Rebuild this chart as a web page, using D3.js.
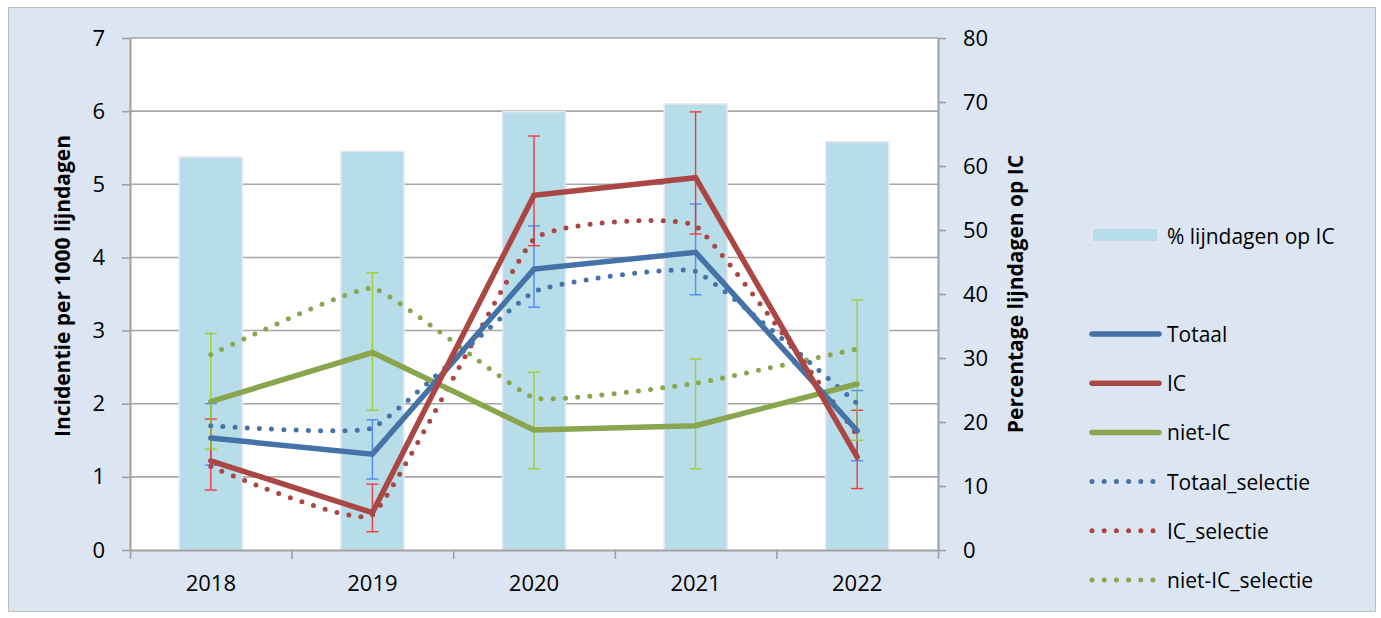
<!DOCTYPE html>
<html>
<head>
<meta charset="utf-8">
<script src="https://cdn.jsdelivr.net/npm/d3@7"></script>
<style>
  html, body { margin: 0; padding: 0; background: #ffffff; }
  svg { display: block; }
  text { font-family: "Open Sans", "Noto Sans", sans-serif; fill: #000; }
</style>
</head>
<body>
<svg id="chart" width="1381" height="618"></svg>
<script>
// Categories (years)
const years = ["2018", "2019", "2020", "2021", "2022"];

// Percentage of line days on IC (right axis, bars)
const pctIC = [61.4, 62.3, 68.5, 69.7, 63.8];

// Incidence per 1000 line days (left axis)
const totaal = [1.53, 1.31, 3.84, 4.07, 1.63];
const ic = [1.22, 0.51, 4.85, 5.09, 1.27];
const nietIC = [2.03, 2.70, 1.64, 1.70, 2.27];

// Confidence intervals for the solid series
const totaalLo = [1.16, 0.97, 3.32, 3.49, 1.22];
const totaalHi = [2.00, 1.78, 4.43, 4.73, 2.18];
const icLo = [0.82, 0.25, 4.16, 4.32, 0.84];
const icHi = [1.79, 0.90, 5.66, 5.99, 1.91];
const nietICLo = [1.38, 1.91, 1.11, 1.11, 1.50];
const nietICHi = [2.96, 3.79, 2.43, 2.61, 3.42];

// Selection series (dotted, smoothed)
const totaalSel = [1.70, 1.67, 3.53, 3.81, 2.00];
const icSel = [1.14, 0.48, 4.25, 4.43, 1.57];
const nietICSel = [2.67, 3.58, 2.08, 2.28, 2.75];

// Axis ticks
const leftTicks = [0, 1, 2, 3, 4, 5, 6, 7];
const rightTicks = [0, 10, 20, 30, 40, 50, 60, 70, 80];

const svg = d3.select("#chart");

// Chart area
svg.append("rect")
  .attr("x", 8.5).attr("y", 7.5)
  .attr("width", 1367).attr("height", 604)
  .attr("fill", "#dce6f2")
  .attr("stroke", "#bfbfbf").attr("stroke-width", 1);

const plot = { left: 130, right: 938, top: 38, bottom: 550 };

const x = d3.scaleBand().domain(years).range([plot.left, plot.right]).paddingInner(0).paddingOuter(0);
const xEdge = d3.scaleLinear().domain([0, years.length]).range([plot.left, plot.right]);
const yL = d3.scaleLinear().domain([0, 7]).range([plot.bottom, plot.top]);
const yR = d3.scaleLinear().domain([0, 80]).range([plot.bottom, plot.top]);
const cx = d => x(d) + x.bandwidth() / 2;

// Plot area
svg.append("rect")
  .attr("x", plot.left).attr("y", plot.top)
  .attr("width", plot.right - plot.left).attr("height", plot.bottom - plot.top)
  .attr("fill", "#ffffff");

// Horizontal gridlines
svg.append("g")
  .selectAll("line")
  .data(leftTicks.filter(t => t > 0))
  .join("line")
  .attr("x1", plot.left).attr("x2", plot.right)
  .attr("y1", d => yL(d)).attr("y2", d => yL(d))
  .attr("stroke", "#a6a6a6").attr("stroke-width", 1.6);

// Bars: % line days on IC
const barW = 63;
svg.append("g")
  .selectAll("rect")
  .data(years)
  .join("rect")
  .attr("x", d => cx(d) - barW / 2)
  .attr("y", (d, i) => yR(pctIC[i]))
  .attr("width", barW)
  .attr("height", (d, i) => yR(0) - yR(pctIC[i]))
  .attr("fill", "#b7dde8")
  .attr("stroke", "#ece4f4").attr("stroke-width", 1.5);

// Axes
const axisColor = "#a0a0a0";
function styleAxis(g) {
  g.select(".domain").attr("stroke", axisColor).attr("stroke-width", 2);
  g.selectAll(".tick line").attr("stroke", axisColor).attr("stroke-width", 1.6);
  g.selectAll("text").attr("font-size", 22).attr("fill", "#000");
}

svg.append("g")
  .attr("transform", `translate(${plot.left},0)`)
  .call(d3.axisLeft(yL).tickValues(leftTicks).tickFormat(d3.format("d")).tickSize(8).tickPadding(17).tickSizeOuter(0))
  .call(styleAxis);

svg.append("g")
  .attr("transform", `translate(${plot.right},0)`)
  .call(d3.axisRight(yR).tickValues(rightTicks).tickFormat(d3.format("d")).tickSize(8).tickPadding(17).tickSizeOuter(0))
  .call(styleAxis);

// Bottom axis: boundary ticks plus centred year labels
svg.append("g")
  .attr("transform", `translate(0,${plot.bottom})`)
  .call(d3.axisBottom(xEdge).tickValues(d3.range(years.length + 1)).tickFormat("").tickSize(9).tickSizeOuter(0))
  .call(styleAxis);

svg.append("g")
  .attr("transform", `translate(0,${plot.bottom})`)
  .call(d3.axisBottom(x).tickSize(0).tickPadding(25))
  .call(g => g.select(".domain").remove())
  .call(styleAxis);

// Error bars
const errSeries = [
  { lo: totaalLo, hi: totaalHi, color: "#3f7cf5" },
  { lo: icLo, hi: icHi, color: "#ff1f1f" },
  { lo: nietICLo, hi: nietICHi, color: "#9dcc14" }
];
const cap = 6;
errSeries.forEach(s => {
  const g = svg.append("g").attr("stroke", s.color).attr("stroke-width", 1.4).attr("opacity", 0.85);
  years.forEach((yr, i) => {
    const px = cx(yr);
    g.append("line").attr("x1", px).attr("x2", px).attr("y1", yL(s.lo[i])).attr("y2", yL(s.hi[i]));
    g.append("line").attr("x1", px - cap).attr("x2", px + cap).attr("y1", yL(s.lo[i])).attr("y2", yL(s.lo[i]));
    g.append("line").attr("x1", px - cap).attr("x2", px + cap).attr("y1", yL(s.hi[i])).attr("y2", yL(s.hi[i]));
  });
});

// Line series
const colBlue = "#4572a7", colRed = "#aa4643", colGreen = "#89a54e";
const series = [
  { name: "Totaal", values: totaal, color: colBlue, dotted: false },
  { name: "IC", values: ic, color: colRed, dotted: false },
  { name: "niet-IC", values: nietIC, color: colGreen, dotted: false },
  { name: "Totaal_selectie", values: totaalSel, color: colBlue, dotted: true },
  { name: "IC_selectie", values: icSel, color: colRed, dotted: true },
  { name: "niet-IC_selectie", values: nietICSel, color: colGreen, dotted: true }
];

const straight = d3.line().x((d, i) => cx(years[i])).y(d => yL(d));
const smooth = d3.line().x((d, i) => cx(years[i])).y(d => yL(d)).curve(d3.curveCardinal.tension(0.65));

// Dotted series first, solid lines on top
const drawOrder = [5, 4, 3, 2, 0, 1];
drawOrder.forEach(k => {
  const s = series[k];
  svg.append("path")
    .attr("d", (s.dotted ? smooth : straight)(s.values))
    .attr("fill", "none")
    .attr("stroke", s.color)
    .attr("stroke-width", s.dotted ? 5 : 5.5)
    .attr("stroke-linecap", "round")
    .attr("stroke-linejoin", "miter")
    .attr("stroke-dasharray", s.dotted ? "0 12.2" : null);
});

// Axis titles
svg.append("text")
  .attr("transform", "translate(62,286) rotate(-90)")
  .attr("text-anchor", "middle").attr("dominant-baseline", "central")
  .attr("font-size", 21).attr("font-weight", "bold")
  .text("Incidentie per 1000 lijndagen");

svg.append("text")
  .attr("transform", "translate(1015,294) rotate(-90)")
  .attr("text-anchor", "middle").attr("dominant-baseline", "central")
  .attr("font-size", 21).attr("font-weight", "bold")
  .text("Percentage lijndagen op IC");

// Legend
const legend = svg.append("g");
legend.append("rect")
  .attr("x", 1092).attr("y", 228).attr("width", 66).attr("height", 14)
  .attr("fill", "#b7dde8").attr("stroke", "#ece4f4").attr("stroke-width", 1.5);
legend.append("text")
  .attr("x", 1167).attr("y", 236).attr("dominant-baseline", "central")
  .attr("font-size", 21).text("% lijndagen op IC");

const legY = d3.scalePoint().domain(series.map(s => s.name)).range([334, 580]);
series.forEach(s => {
  const yy = legY(s.name);
  if (s.dotted) {
    legend.append("line")
      .attr("x1", 1092).attr("x2", 1154).attr("y1", yy).attr("y2", yy)
      .attr("stroke", s.color).attr("stroke-width", 5)
      .attr("stroke-linecap", "round").attr("stroke-dasharray", "0 12.2");
  } else {
    legend.append("line")
      .attr("x1", 1092).attr("x2", 1159).attr("y1", yy).attr("y2", yy)
      .attr("stroke", s.color).attr("stroke-width", 5.5)
      .attr("stroke-linecap", "round");
  }
  legend.append("text")
    .attr("x", 1167).attr("y", yy).attr("dominant-baseline", "central")
    .attr("font-size", 21).text(s.name);
});
</script>
</body>
</html>
